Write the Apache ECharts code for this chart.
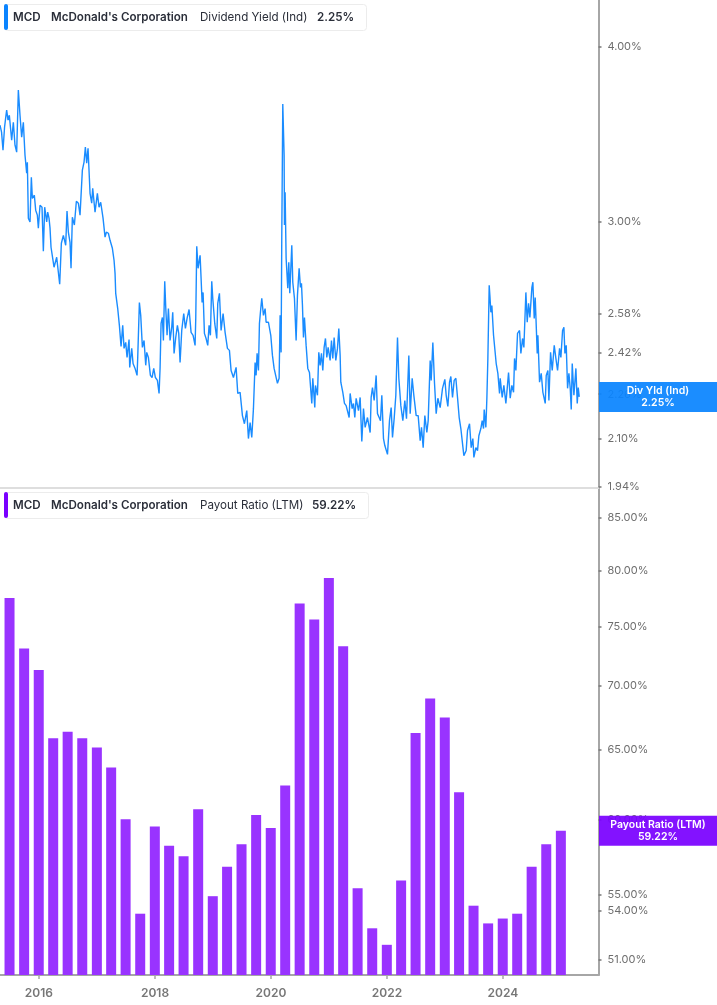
<!DOCTYPE html>
<html><head><meta charset="utf-8">
<style>html,body{margin:0;padding:0;background:#fff}#c{width:717px;height:1005px}</style>
<script src="https://cdn.jsdelivr.net/npm/echarts@6/dist/echarts.min.js"></script>
</head><body><div id="c"></div>
<script>
const yieldStart = Date.UTC(2015, 4, 1);
const yieldWeeks = [0,1.4,2.7,4.1,5.4,6,7.2,8.4,10.5,12,13.5,15,16.5,18,19.5,21,22.5,24,24.6,25.5,27,28.2,29.1,30.9,32.1,33.6,34.5,36,37.8,39,40.2,42,42.9,44.1,45,45.9,47.4,48.6,50.1,51,52.5,53.7,55.2,57,59.1,60.3,61.5,63,63.9,65.1,66.9,68.7,70.5,72,74.1,75.6,76.8,78,79.2,81,82.5,83.4,85.5,87.6,89.1,90.6,92.7,94.5,95.7,97.5,99,101.1,102.6,103.5,104.1,105.9,107.4,108.9,110.4,111.6,113.1,114.3,116.1,116.7,118.5,119.7,121.5,123.3,123.9,125.4,126.6,128.1,129.6,131.1,132,133.5,135.3,136.8,138.3,139.8,141.6,143.1,144,144.9,146.1,147,148.2,149.1,150.3,151.5,153,154.5,155.4,156.6,158.1,159.6,160.8,162,163.5,165.3,166.8,168.3,170.1,171.9,173.7,175.5,176.1,177,178.2,180,180.9,181.8,182.7,183.9,185.4,186.9,188.1,189.3,190.5,191.4,193.2,195,195.9,197.4,198.9,200.7,202.5,204.6,206.4,207.9,210,212.4,213.9,216,218.1,219.9,222,223.5,225,226.5,228,229.5,230.4,231.3,232.5,233.4,234.6,235.5,237,238.5,239.4,241.5,243.6,245.1,246.6,248.1,249.6,251.1,252,252.9,253.5,254.4,255.3,255.6,255.9,256.5,257.4,258.9,259.8,260.7,262.5,263.4,264.9,266.4,267.6,269.1,270.3,271.2,272.1,273,273.9,275.4,276.9,278.4,280.5,281.4,283.2,283.8,285.6,286.8,288,289.2,290.4,291.6,292.8,294,295.2,297,298.2,299.4,300.6,302.1,303.6,304.8,306,306.6,308.4,309.9,311.4,314.1,315,316.8,318,319.2,320.4,322.5,324,325.5,327,328.5,330.6,333,333.9,335.1,336.6,338.4,339.6,341.1,342.3,343.5,345,346.2,348.6,350.4,351.9,353.1,354.6,356.1,357.6,358.8,360.6,362.4,364.2,365.7,367.8,369,370.8,372.3,374.4,376.2,378,379.2,380.7,382.2,384,385.2,387,387.9,389.4,390.9,392.4,393.9,396,398.1,400.2,401.4,402.9,404.4,405.6,407.1,408.6,410.1,411.6,413.1,414.6,415.8,417.3,419.4,420.6,422.4,423.9,425.4,426.3,428.1,429.6,430.8,432.6,433.8,435,435.6,437.1,438,438.9,440.1,440.7,441.6,442.5,444,444.9,446.4,447.9,449.4,450,451.8,453.3,455.1,456.3,457.5,459,460.5,462,462.9,464.1,465.6,467.4,468.6,470.1,471.3,473.1,474.3,475.5,476.7,478.5,479.4,480.6,481.5,483.3,483.9,485.4,486.9,488.4,490.5,491.4,492.9,493.8,495.3,496.8,498.6,500.1,501.6,503.4,504.6,506.1,507.3,508.2,509.4,510.6,511.8,513,513.9,514.8,516.3,518.1,519.3,520.2,521.1];
const yieldValues = [3.518,3.478,3.376,3.506,3.576,3.606,3.547,3.576,3.432,3.535,3.404,3.365,3.727,3.576,3.449,3.535,3.348,3.251,3.31,3.019,3,3.229,3.119,3.135,3.059,3.034,2.97,3.084,3.074,2.859,3.074,3,3.049,3.019,2.97,2.878,2.873,2.785,2.78,2.831,2.762,2.708,2.897,2.935,2.887,3.054,2.95,2.901,2.78,3.024,2.985,3.104,3.094,3.034,3.267,3.31,3.393,3.305,3.387,3.145,3.094,3.171,3.049,3.145,3.074,3.099,3.019,2.926,2.95,2.945,2.911,2.873,2.817,2.757,2.668,2.602,2.531,2.445,2.531,2.437,2.461,2.401,2.473,2.362,2.437,2.377,2.358,2.331,2.401,2.628,2.573,2.441,2.469,2.37,2.421,2.401,2.331,2.323,2.358,2.323,2.312,2.263,2.358,2.539,2.564,2.469,2.721,2.607,2.49,2.602,2.469,2.523,2.586,2.417,2.481,2.531,2.498,2.381,2.51,2.581,2.518,2.56,2.598,2.502,2.49,2.449,2.56,2.883,2.78,2.84,2.735,2.628,2.672,2.498,2.477,2.449,2.531,2.49,2.721,2.646,2.539,2.477,2.624,2.668,2.51,2.581,2.502,2.437,2.429,2.35,2.323,2.362,2.263,2.267,2.182,2.153,2.2,2.101,2.157,2.105,2.207,2.381,2.331,2.417,2.35,2.539,2.602,2.646,2.573,2.602,2.544,2.544,2.49,2.409,2.358,2.362,2.301,2.32,2.573,2.421,2.935,3.642,3.636,3.348,2.985,3.151,2.826,2.69,2.808,2.668,2.887,2.717,2.646,2.469,2.659,2.78,2.694,2.712,2.615,2.481,2.564,2.449,2.358,2.342,2.226,2.32,2.211,2.293,2.256,2.421,2.37,2.417,2.35,2.441,2.477,2.401,2.441,2.389,2.469,2.397,2.481,2.389,2.437,2.518,2.409,2.305,2.267,2.226,2.218,2.175,2.263,2.207,2.226,2.175,2.245,2.2,2.248,2.091,2.207,2.14,2.175,2.122,2.248,2.285,2.237,2.331,2.189,2.175,2.164,2.256,2.101,2.077,2.047,2.164,2.211,2.105,2.171,2.256,2.481,2.32,2.218,2.164,2.237,2.171,2.409,2.189,2.32,2.256,2.182,2.182,2.094,2.14,2.07,2.182,2.122,2.164,2.389,2.312,2.461,2.301,2.189,2.245,2.211,2.282,2.316,2.256,2.215,2.305,2.327,2.248,2.312,2.32,2.248,2.175,2.136,2.094,2.043,2.06,2.129,2.153,2.07,2.101,2.037,2.07,2.06,2.111,2.136,2.164,2.136,2.204,2.14,2.245,2.397,2.703,2.659,2.586,2.615,2.49,2.498,2.377,2.339,2.263,2.32,2.248,2.293,2.226,2.282,2.342,2.245,2.293,2.267,2.397,2.35,2.498,2.51,2.417,2.477,2.441,2.672,2.544,2.624,2.564,2.694,2.717,2.56,2.65,2.417,2.49,2.305,2.339,2.267,2.226,2.331,2.35,2.237,2.421,2.35,2.449,2.397,2.35,2.437,2.401,2.51,2.523,2.417,2.449,2.282,2.339,2.282,2.204,2.377,2.256,2.358,2.226,2.285,2.25];
const payoutDates = ['2015-06-30','2015-09-30','2015-12-31','2016-03-31','2016-06-30','2016-09-30','2016-12-31','2017-03-31','2017-06-30','2017-09-30','2017-12-31','2018-03-31','2018-06-30','2018-09-30','2018-12-31','2019-03-31','2019-06-30','2019-09-30','2019-12-31','2020-03-31','2020-06-30','2020-09-30','2020-12-31','2021-03-31','2021-06-30','2021-09-30','2021-12-31','2022-03-31','2022-06-30','2022-09-30','2022-12-31','2023-03-31','2023-06-30','2023-09-30','2023-12-31','2024-03-31','2024-06-30','2024-09-30','2024-12-31'];
const payoutValues = [77.5,73.1,71.3,65.9,66.4,65.9,65.2,63.7,60.0,53.8,59.5,58.2,57.5,60.7,54.9,56.8,58.3,60.3,59.4,62.4,77.0,75.6,79.3,73.3,55.4,52.9,51.9,55.9,66.3,69.0,67.5,61.9,54.3,53.2,53.5,53.8,56.8,58.3,59.22];
const yieldTicks = [4.00,3.00,2.58,2.42,2.26,2.10,1.94];
const payoutTicks = [85,80,75,70,65,60,55,54,51];
const yearTicks = [2016,2018,2020,2022,2024];
const INK='#2a2e39', MUTED='#6e6e6e', BLUE='#1a8cff', TAGBLUE='#0a84ff', TAGPURPLE='#7a00ff';
const xMin=Date.UTC(2015,4,1), xMax=Date.UTC(2025,7,25);
const chart = echarts.init(document.getElementById('c'),null,{renderer:'canvas'});
const font='Inter';
function yAxis(i,min,max,ticks){return {type:'log',logBase:10,gridIndex:i,position:'right',min,max,
  axisLine:{show:true,onZero:false,lineStyle:{color:'#a6a6a6',width:2}},
  axisTick:{show:true,length:3,customValues:ticks,lineStyle:{color:'#777',width:1.5}},
  axisLabel:{show:true,customValues:ticks,margin:9,padding:[5,0,0,0],color:MUTED,fontFamily:font,fontSize:11,formatter:v=>(+v).toFixed(2)+'%',showMinLabel:true,showMaxLabel:true},
  splitLine:{show:false},minorTick:{show:false}};}
const yrVals=yearTicks.map(y=>Date.UTC(y,0,1));
function legend(y,w,color,metric,mx,val,vx){
  const cy=y+14; const t=(text,x,weight)=>({type:'text',z:60,style:{text,x,y:cy,fill:INK,font:`${weight} 11.6px ${font}`,textVerticalAlign:'middle'}});
  return [{type:'rect',z:50,shape:{x:4.5,y:y+.5,width:w,height:26,r:3},style:{fill:'#fff',stroke:'#ececec',lineWidth:1}},
   {type:'rect',z:55,shape:{x:4,y:y,width:4,height:26,r:2},style:{fill:color}},
   t('MCD',13,600),t("McDonald's Corporation",51,600),t(metric,mx,400),t(val,vx,600)];
}
function tag(cy,color,l1,l2){return [{type:'rect',z:70,shape:{x:599,y:cy-15,width:118,height:30},style:{fill:color,opacity:.93}},
  {type:'text',z:71,style:{text:l1+'\n'+l2,x:658,y:cy,fill:'#fff',font:`600 10.5px ${font}`,lineHeight:12,textAlign:'center',textVerticalAlign:'middle'}}];}
chart.setOption({useUTC:true,animation:false,backgroundColor:'#fff',
 grid:[{left:0,right:118.5,top:0,height:488},{left:0,right:118.5,top:488,height:487}],
 xAxis:[{type:'value',gridIndex:0,min:xMin,max:xMax,axisLine:{show:true,onZero:false,lineStyle:{color:'#dedede',width:2}},axisTick:{show:false},axisLabel:{show:false},splitLine:{show:false}},
  {type:'value',gridIndex:1,min:xMin,max:xMax,axisLine:{show:true,onZero:false,lineStyle:{color:'#a6a6a6',width:2}},
   axisTick:{show:true,length:4,customValues:yrVals,lineStyle:{color:'#a6a6a6',width:1.5}},
   axisLabel:{show:true,customValues:yrVals,margin:12,color:'#777',fontFamily:font,fontSize:12,fontWeight:600,formatter:v=>String(new Date(v).getUTCFullYear())},splitLine:{show:false}}],
 yAxis:[yAxis(0,1.937,4.322,yieldTicks),yAxis(1,50.12,88,payoutTicks)],
 series:[{type:'line',xAxisIndex:0,yAxisIndex:0,showSymbol:false,symbol:'none',lineStyle:{color:BLUE,width:1.4},
   data:yieldWeeks.map((w,i)=>[yieldStart+w*7*864e5,yieldValues[i]])},
  {type:'bar',xAxisIndex:1,yAxisIndex:1,barWidth:10,itemStyle:{color:'#9933ff'},
   data:payoutDates.map((d,i)=>[Date.parse(d),payoutValues[i]])}]});
const yTop=chart.convertToPixel({yAxisIndex:0},2.25), yBot=chart.convertToPixel({yAxisIndex:1},59.22);
chart.setOption({graphic:[...legend(4,362,'#0a84ff','Dividend Yield (Ind)',200,'2.25%',317),
  ...legend(492,364,'#7a00ff','Payout Ratio (LTM)',200,'59.22%',312),
  ...tag(yTop,TAGBLUE,'Div Yld (Ind)','2.25%'),...tag(yBot,TAGPURPLE,'Payout Ratio (LTM)','59.22%')]});
</script></body></html>
